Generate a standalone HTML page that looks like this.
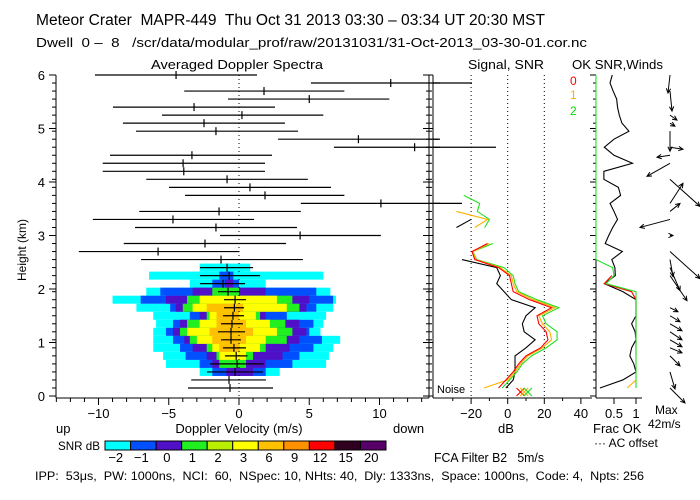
<!DOCTYPE html>
<html><head><meta charset="utf-8">
<style>
html,body{margin:0;padding:0;background:#fff;}
svg{display:block;font-family:"Liberation Sans",sans-serif;}
text{white-space:pre;}
</style></head>
<body>
<svg id="c" width="700" height="500" viewBox="0 0 700 500" xmlns="http://www.w3.org/2000/svg" xml:space="preserve">
<rect x="0" y="0" width="700" height="500" fill="#fff"/>
<text x="36" y="25" font-size="15.5" textLength="509" lengthAdjust="spacingAndGlyphs">Meteor Crater  MAPR-449  Thu Oct 31 2013 03:30 – 03:34 UT 20:30 MST</text>
<text x="36" y="47" font-size="13" textLength="551" lengthAdjust="spacingAndGlyphs">Dwell  0 –  8   /scr/data/modular_prof/raw/20131031/31-Oct-2013_03-30-01.cor.nc</text>
<text x="151" y="69" font-size="13" textLength="172" lengthAdjust="spacingAndGlyphs">Averaged Doppler Spectra</text>
<text x="468" y="69" font-size="13" textLength="76" lengthAdjust="spacingAndGlyphs">Signal, SNR</text>
<text x="572" y="69" font-size="13" textLength="91" lengthAdjust="spacingAndGlyphs">OK SNR,Winds</text>
<text transform="translate(26,250) rotate(-90)" text-anchor="middle" font-size="12">Height (km)</text>
<text x="239" y="433" text-anchor="middle" font-size="13">Doppler Velocity (m/s)</text>
<text x="56" y="433" font-size="13">up</text>
<text x="393" y="433" font-size="13">down</text>
<text x="506" y="433" text-anchor="middle" font-size="13">dB</text>
<text x="593" y="433" font-size="13">Frac OK</text>
<text x="594" y="447" font-size="12">··· AC offset</text>
<text x="655" y="414" font-size="12">Max</text>
<text x="648" y="428" font-size="12">42m/s</text>
<text x="58" y="450" font-size="12" textLength="42" lengthAdjust="spacingAndGlyphs">SNR dB</text>
<text x="434" y="462" font-size="13" textLength="110" lengthAdjust="spacingAndGlyphs">FCA Filter B2   5m/s</text>
<text x="35" y="480" font-size="12" textLength="609" lengthAdjust="spacingAndGlyphs">IPP:  53μs,  PW: 1000ns,  NCI:  60,  NSpec: 10, NHts: 40,  Dly: 1333ns,  Space: 1000ns,  Code: 4,  Npts: 256</text>
<text x="437" y="393" font-size="11">Noise</text>
<text x="570" y="85" font-size="12" fill="#ff0000">0</text>
<text x="570" y="99" font-size="12" fill="#ffb000">1</text>
<text x="570" y="115" font-size="12" fill="#00e000">2</text>
</svg>
<script>
// ---------- data ----------
const heightTicks = [0,1,2,3,4,5,6];
const velTicks = [-10,-5,0,5,10];
const dbTicks = [-20,0,20,40];
const fracTicks = [0.5,1];
const cbLabels = ["−2","−1","0","1","2","3","6","9","12","15","20"];
const cbColors = ["#00ffff","#0050ff","#5010c8","#20f020","#b8f000","#ffff00","#ffc000","#ff9000","#ff0000","#300020","#58006a"];
// heatmap rows (gate index) and contour extents (m/s)
const hmGates = [15,14,13,12,11,10,9,8,7,6,5,4,3,2];
const cyanL = [-2.8,-6.4,-3.5,-6.6,-9,-7.3,-6.1,-5.9,-6.1,-6.1,-6.1,-5.4,-5.2,-2.8];
const cyanR = [0.8,6.0,1.9,6.5,6.9,6.7,6.2,6.0,5.8,7.2,6.7,6.4,6.2,2.9];
const blueL = [null,-1.4,-1.9,-5.6,-7,-4.9,-3.5,-4.7,-5.2,-4.7,-4.2,-3.8,-2.8,-1.9];
const blueR = [null,-0.4,0,5.5,6.7,5.5,3.4,5.3,5.0,5.9,5.3,4.3,3.8,1.9];
const purpL = [null,null,-1,-3.3,-5.2,-4.5,-2.8,-4.2,-4.7,-3.9,-3.3,-2.3,-1.9,-0.9];
const purpR = [null,null,-0.4,1.9,5,4.8,1.9,4.3,4.8,4.3,3.6,3.1,1.9,1.0];
const greenL = [null,null,null,-1.9,-3.7,-4,-2.3,-3.7,-4.2,-3.5,-2.3,-1.6,-1.4,null];
const greenR = [null,null,null,0,3.8,4.3,1.5,3.3,3.8,3.4,1.9,1.0,0.5,null];
const yellowL = [null,null,null,null,-2.8,-3.3,-2.1,-2.8,-3.7,-3.0,-1.9,-1.4,null,null];
const yellowR = [null,null,null,null,2.7,3.4,1.2,2.2,2.7,1.9,1.5,0.5,null,null];
const orangeL = [null,null,null,null,null,-2.3,-1.6,-1.6,-2.1,-1.9,-1.4,null,null,null];
const orangeR = [null,null,null,null,null,0.3,0,0.5,1.0,0.5,0.05,null,null,null];
// spectra error bars per gate 0..39
const specLeft = [-3.63,-3.4,-2.28,-2.06,-1.0,-1.14,-1.28,-1.5,-1.28,-1.14,-1.07,-1.07,-1.5,-2.78,-2.78,-2.78,-6.97,-11.4,-8.2,-1.35,-7.4,-10.4,-7.1,4.4,-3.84,-4.98,-6.6,-9.7,-9.7,-9.18,6.76,2.78,-7.33,-8.26,-5.48,-8.97,-0.78,-3.9,5.12,-10.25];
const specCenter = [-0.64,-0.71,-0.28,-0.14,-0.2,-0.36,-0.57,-0.57,-0.5,-0.43,-0.33,-0.28,-0.78,-1.14,-0.7,-0.85,-1.28,-5.76,-2.42,4.35,-1.64,-4.7,-1.42,10.1,1.85,0.78,-0.85,-3.93,-3.98,-3.35,12.5,8.5,-1.64,-2.49,0.21,-3.2,5.0,1.78,10.8,-4.48];
const specRight = [2.42,1.92,1.71,1.78,0.6,0.5,0.14,0.43,0.28,0.36,0.36,0.5,0.07,0.43,1.5,1.0,4.55,0,3.35,10.1,4.13,1.07,4.4,15.8,7.5,6.55,4.9,1.85,1.85,2.35,18.2,14.2,4.2,3.27,6.0,2.56,10.7,7.5,16.5,1.28];
// signal panel (dB per gate 0..39)
const N = null;
const sigBlack = [-1,3,4,4,4,10,15,9,8,10,15,2,-2,-6,-4,-6,-25,N,N,N,-28,-20,N,N,N,N,N,N,N,N,N,N,N,N,N,N,N,N,N,N];
const snrRed = [-5,-1,3,6,10,18,22,21,17,16,24,12,3,2,1,-5,-18,-19.5,-11,N,N,N,N,N,N,N,N,N,N,N,N,N,N,N,N,N,N,N,N,N];
const snrOrange = [-13,0,4,7,11,19,24,23,19,17,26,14,5,3,2,-4,-17.5,-19,-10,N,-18,-11,-28,N,N,N,N,N,N,N,N,N,N,N,N,N,N,N,N,N];
const snrGreen = [-3,1,5,8,13,21,27,27,21,19,28,16,6,4,3,-2,-17,-19,-8,N,-12.6,-10,-16.6,-15.3,-24,N,N,N,N,N,N,N,N,N,N,N,N,N,N,N];
const sigBarGates = [38,31,30,23];
const sigBarDb = [-19.5,-37,-6.4,-25];
const noiseDb = [7,9,11];
// OK fraction per gate 0..39
const okBlack = [0.18,0.7,1.0,0.95,0.86,0.9,1.0,0.98,0.9,1.0,1.0,1.0,0.7,0.28,0.53,0.52,0.45,0.69,0.3,0.38,0.47,0.58,0.5,0.41,0.65,0.6,0.27,0.27,0.92,0.5,0.28,0.5,0.84,0.68,0.62,0.58,0.56,0.48,0.41,0.46];
const okGreen = [1,1,1,1,1,1,1,1,1,1,1,1,1,0.32,0.5,0.47,0.09,0.09,0.09,0.09,0.09,0.09,0.09,0.09,0.09,0.09,0.09,0.09,0.09,0.09,0.09,0.09,0.09,0.09,0.09,0.09,0.09,0.09,0.09,0.09];
const okRed = [N,N,N,N,1,1,1,1,1,1,1,1,0.9,0.28,0.45,N,N,N,N,N,N,N,N,N,N,N,N,N,N,N,N,N,N,N,N,N,N,N,N,N];
const okOrange = [0.8,1.0,N,N,N,N,N,N,N,N,N,N,N,N,N,N,N,N,N,N,N,N,N,N,N,N,N,N,N,N,N,N,N,N,N,N,N,N,N,N];
// winds: gate, u, v
const windGate = [0,2,4,5,6,7,8,9,10,14,15,16,17,19,21,22,23,26,28,29,30,32,33,34,37,39];
const windU = [15,5,10,12,12,12,12,10,8,17,10,3,30,3,-30,10,13,30,-23,-13,13,0,5,7,2,-2];
const windV = [-15,-17,-10,-5,-7,-8,-7,-6,-4,-25,-23,-17,-27,0,-8,8,20,-27,-13,-2,-2,-20,-3,-5,-20,-18];

// ---------- scales ----------
const gateH = k => 0.15 + 0.15*k;
const yH = h => 396 - 53.5*h;
const yG = k => yH(gateH(k));
const xV = v => 239 + 14.05*v;
const xDb = d => 507.7 + 1.83*d;
const xF = f => 592 + 44*f;
const svg = document.getElementById('c');
const NS = 'http://www.w3.org/2000/svg';
function mk(tag, attrs, parent){
  const e = document.createElementNS(NS, tag);
  for (const k in attrs) e.setAttribute(k, attrs[k]);
  (parent||svg).appendChild(e);
  return e;
}
function grp(){ const g = document.createElementNS(NS,'g'); svg.appendChild(g); return g; }

const hm = grp();


const levels = [[cyanL,cyanR,0],[blueL,blueR,1],[purpL,purpR,2],[greenL,greenR,3],[yellowL,yellowR,5],[orangeL,orangeR,6]];
levels.forEach(([L,R,ci])=>{
  hmGates.forEach((g,i)=>{
    if (L[i]===null) return;
    const x1 = xV(L[i]), x2 = xV(R[i]);
    const r = mk('rect',{x:x1,y:yG(g)-4,width:Math.max(1,x2-x1),height:8,fill:cbColors[ci]},hm);
    
    
  });
});

const zl = mk('line',{x1:xV(0),y1:75,x2:xV(0),y2:398,stroke:'#000','stroke-dasharray':'1,3'});



const eb = grp();


specCenter.forEach((c,k)=>{
  const y = yG(k);
  const x1 = Math.max(57,xV(specLeft[k])), x2 = Math.min(440,xV(specRight[k]));
  const l = mk('line',{x1:x1,y1:y,x2:x2,y2:y,stroke:'#000','stroke-width':1.2},eb);
  
  
  const t = mk('line',{x1:xV(c),y1:y-4,x2:xV(c),y2:y+4,stroke:'#000','stroke-width':1.2},eb);
  
  
});

const ax = grp();


function ln(x1,y1,x2,y2,w){ return mk('line',{x1:x1,y1:y1,x2:x2,y2:y2,stroke:'#000','stroke-width':w||1},ax); }
ln(56,75,56,398); ln(56,398,429,398); ln(429,75,429,398);
ln(433,75,433,398); ln(433,398,592,398);
ln(596,75,596,398); ln(596,398,642,398);
for (let k=0;k<=39;k++){ const y=yG(k); ln(52,y,56,y); ln(429,y,432,y); ln(429,y,426,y); ln(596,y,593,y); }
heightTicks.forEach(h=>{
  const y=yH(h);
  ln(49,y,56,y); ln(429,y,433,y); ln(429,y,423,y); ln(596,y,590,y);
  const t = mk('text',{x:45,y:y+5,'text-anchor':'end','font-size':13});
  t.textContent = h;
  
  
});
for (let v=-13; v<=13; v++){ ln(xV(v),398,xV(v),v%5===0?405:402); }
velTicks.forEach(v=>{
  const t = mk('text',{x:xV(v),y:418,'text-anchor':'middle','font-size':13});
  t.textContent = v<0 ? '−'+(-v) : v;
  
  
});
for (let d=-30; d<=40; d+=10){ ln(xDb(d),398,xDb(d),d%20===0?404:401); }
dbTicks.forEach(d=>{
  const t = mk('text',{x:xDb(d),y:418,'text-anchor':'middle','font-size':13});
  t.textContent = d<0 ? '−'+(-d) : d;
  
  
  if (d<40){
    const dl = mk('line',{x1:xDb(d),y1:75,x2:xDb(d),y2:398,stroke:'#000','stroke-dasharray':'1,3'});
    
    
  }
});
fracTicks.forEach(f=>{
  ln(xF(f),398,xF(f),404);
  const t = mk('text',{x:xF(f),y:418,'text-anchor':'middle','font-size':13});
  t.textContent = f;
  
  
});

function series(vals, xf, color, name, parent){
  let seg=[];
  const segs=[];
  vals.forEach((v,k)=>{ if(v===null){ if(seg.length) segs.push(seg); seg=[]; } else seg.push([xf(v),yG(k)]); });
  if(seg.length) segs.push(seg);
  segs.forEach(s=>{
    const p = mk('polyline',{points:s.map(q=>q.join(',')).join(' '),fill:'none',stroke:color,'stroke-width':1.1},parent);
    
    
  });
}
const sg = grp();


series(sigBlack,xDb,'#000','signal-line',sg);
series(snrGreen,xDb,'#20e020','snr-beam-2-line',sg);
series(snrOrange,xDb,'#ffb000','snr-beam-1-line',sg);
series(snrRed,xDb,'#ff0000','snr-beam-0-line',sg);
sigBarGates.forEach((g,i)=>{
  const b = mk('line',{x1:433,y1:yG(g),x2:Math.max(440,xDb(sigBarDb[i])),y2:yG(g),stroke:'#000','stroke-width':1.2},sg);
  
  
});
const nc = ['#ff0000','#ffb000','#20e020'];
noiseDb.forEach((d,i)=>{
  const x=xDb(d), y=392;
  const m = mk('path',{d:`M${x-4},${y-4}L${x+4},${y+4}M${x-4},${y+4}L${x+4},${y-4}`,stroke:nc[i],'stroke-width':1.2,fill:'none'},sg);
  
  
});

const og = grp();


series(okBlack,xF,'#000','ok-snr-line',og);
series(okRed,xF,'#ff0000','ok-beam-0-line',og);
series(okGreen,xF,'#20e020','ok-beam-2-line',og);
series(okOrange,xF,'#ffb000','ok-beam-1-line',og);

const wg = grp();


windGate.forEach((g,i)=>{
  const x0=670, y0=yG(g), x1=x0+windU[i], y1=y0-windV[i];
  const a=Math.atan2(y1-y0,x1-x0), h=5;
  const d=`M${x0},${y0}L${x1},${y1}M${x1-h*Math.cos(a-0.45)},${y1-h*Math.sin(a-0.45)}L${x1},${y1}L${x1-h*Math.cos(a+0.45)},${y1-h*Math.sin(a+0.45)}`;
  const p = mk('path',{d:d,stroke:'#000','stroke-width':1,fill:'none'},wg);
  
  
});

const cb = grp();


const cbX0=105, cbW=(386-105)/cbColors.length;
cbColors.forEach((c,i)=>{
  const r = mk('rect',{x:cbX0+i*cbW,y:441,width:cbW,height:9,fill:c,stroke:'#000','stroke-width':1},cb);
  
  
  const t = mk('text',{x:cbX0+i*cbW+cbW/2-2,y:462,'text-anchor':'middle','font-size':13},cb);
  t.textContent = cbLabels[i];
  
  
});
</script>
</body></html>
